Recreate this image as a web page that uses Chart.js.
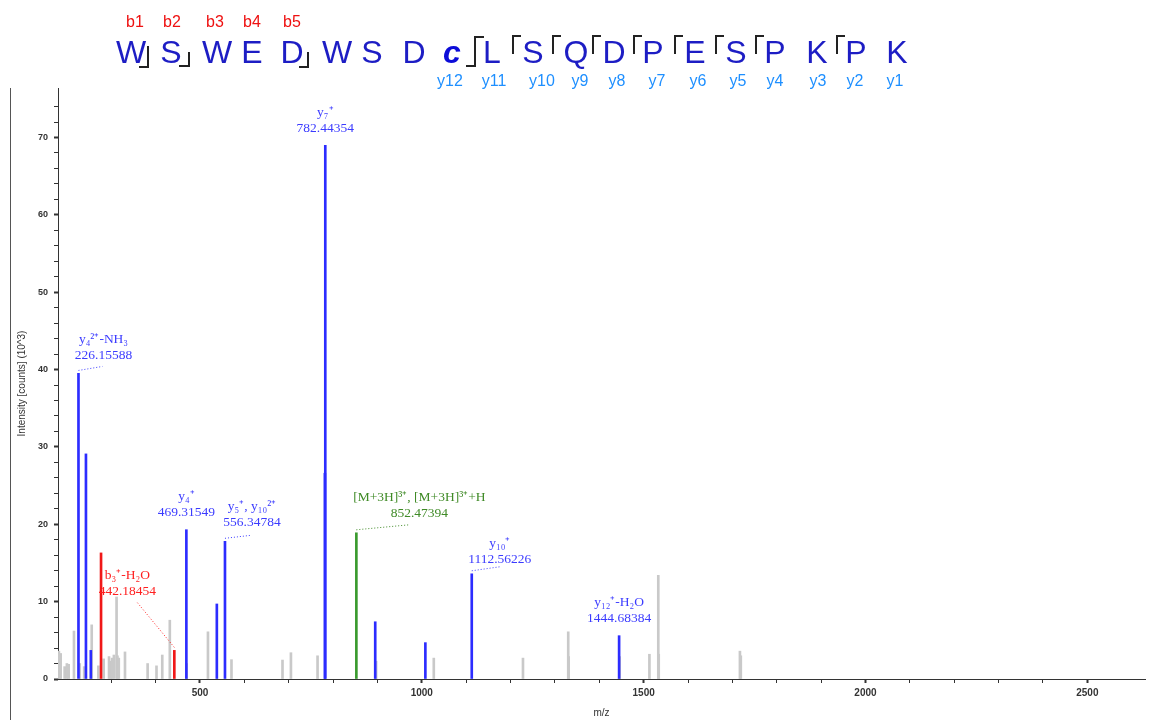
<!DOCTYPE html>
<html>
<head>
<meta charset="utf-8">
<script src="https://cdn.jsdelivr.net/npm/chart.js@4/dist/chart.umd.min.js"></script>
<style>
  html, body { margin: 0; padding: 0; background: #fff; }
  #wrap { position: relative; width: 1152px; height: 720px; overflow: hidden; }
  #edge { position: absolute; left: 10px; top: 88px; width: 1px; height: 632px; background: #555; }
</style>
</head>
<body>
<div id="wrap">
  <canvas id="spec" width="1152" height="720"></canvas>
  <div id="edge"></div>
</div>
<script>
// ---- spectrum data (m/z, intensity in 10^3 counts) ----
const blueMz  = [226.15588, 243, 254, 469.31549, 538, 556.34784, 781.5, 782.44354, 895, 1008, 1112.56226, 1444.68384];
const blueInt = [39.5, 29.1, 3.7, 19.3, 9.7, 17.8, 26.6, 69.0, 7.4, 4.7, 13.6, 5.6];
const redMz   = [277, 442.18454];
const redInt  = [16.3, 3.7];
const greenMz  = [852.47394];
const greenInt = [18.9];
const greyMz  = [182, 184, 186, 195, 200, 204, 216, 229, 239, 256, 271, 283, 295, 299, 302, 306, 312, 314, 317, 331,
                 382, 402, 415, 432, 470, 518, 571, 686, 705, 765, 897, 1027, 1228, 1330, 1331, 1446, 1513, 1533, 1534, 1717, 1719];
const greyInt = [3.6, 1.5, 3.3, 1.6, 2.0, 1.9, 6.2, 2.0, 1.6, 7.0, 1.7, 2.6, 2.9, 2.3, 2.7, 3.1, 10.6, 3.0, 2.7, 3.5,
                 2.0, 1.7, 3.1, 7.6, 2.0, 6.1, 2.5, 2.45, 3.4, 3.0, 2.3, 2.7, 2.7, 6.1, 2.9, 2.9, 3.2, 13.4, 3.2, 3.6, 3.0];

// ---- peak annotations ----
const labelMz  = [226.15588, 782.44354, 469.31549, 556.34784, 852.47394, 1112.56226, 1444.68384, 442.18454];
const labelIon = ['y₄²⁺-NH₃', 'y₇⁺', 'y₄⁺', 'y₅⁺, y₁₀²⁺', '[M+3H]³⁺, [M+3H]³⁺+H', 'y₁₀⁺', 'y₁₂⁺-H₂O', 'b₃⁺-H₂O'];

// ---- sequence header ----
const seqLetters = ['W','S','W','E','D','W','S','D','c','L','S','Q','D','P','E','S','P','K','P','K'];
const bLabels = ['b1','b2','b3','b4','b5'];
const yLabels = ['y12','y11','y10','y9','y8','y7','y6','y5','y4','y3','y2','y1'];

// layout/styling for the annotations (pixels, kept apart from the data)
const labelStyle = [
  { dx: 25, dy: 18, c: [24, -7],   col: '#3b3bff' },
  { dx: 0,  dy: 17, c: null,       col: '#3b3bff' },
  { dx: 0,  dy: 17, c: null,       col: '#3b3bff' },
  { dx: 27, dy: 19, c: [26, -6],   col: '#3b3bff' },
  { dx: 63, dy: 19, c: [53, -8],   col: '#3f8a26' },
  { dx: 28, dy: 14, c: [28, -7],   col: '#3b3bff' },
  { dx: 0,  dy: 17, c: null,       col: '#3b3bff' },
  { dx: -47, dy: 59, c: [-38, -49], col: '#ff2020' }
];
const seqX = [131, 171, 217, 252, 292, 337, 372, 414, 452, 492, 533, 576, 614, 653, 695, 736, 775, 817, 856, 897];
const bX = [135, 172, 215, 252, 292];
const yX = [450, 494, 542, 580, 617, 657, 698, 738, 775, 818, 855, 895];

const pts = (xs, ys) => xs.map((x, i) => ({ x: x, y: ys[i] }));
const allMz = blueMz.concat(redMz, greenMz);
const allInt = blueInt.concat(redInt, greenInt);

const stick = (data, color) => ({
  data: data, backgroundColor: color, borderWidth: 0,
  barThickness: 2, grouped: false
});

const annotate = {
  id: 'annotate',
  afterDatasetsDraw(chart) {
    const ctx = chart.ctx, xs = chart.scales.x, ys = chart.scales.y;
    ctx.save();
    ctx.font = '13.5px "Liberation Serif", serif';
    ctx.textAlign = 'center';
    ctx.textBaseline = 'middle';
    labelMz.forEach((mz, i) => {
      const st = labelStyle[i];
      const h = allInt[allMz.indexOf(mz)];
      const px = xs.getPixelForValue(mz), top = ys.getPixelForValue(h);
      const lx = px + st.dx, ly2 = top - st.dy, ly1 = ly2 - 16;
      ctx.fillStyle = st.col;
      ctx.fillText(labelIon[i], lx, ly1);
      ctx.fillText(mz.toFixed(5), lx, ly2);
      if (st.c) {
        ctx.strokeStyle = st.col;
        ctx.lineWidth = 1;
        ctx.setLineDash([1, 2]);
        ctx.beginPath();
        ctx.moveTo(px, top - 3);
        ctx.lineTo(px + st.c[0], top + st.c[1]);
        ctx.stroke();
        ctx.setLineDash([]);
      }
    });
    ctx.restore();
  }
};

const header = {
  id: 'header',
  afterDraw(chart) {
    const ctx = chart.ctx;
    ctx.save();
    ctx.textAlign = 'center';
    ctx.textBaseline = 'alphabetic';
    seqLetters.forEach((s, i) => {
      ctx.fillStyle = s === 'c' ? '#0c0cd8' : '#1d1dc4';
      ctx.font = s === 'c' ? 'italic bold 32px "Liberation Sans", Arial' : '32px "Liberation Sans", Arial';
      ctx.fillText(s, seqX[i], 63);
    });
    ctx.font = '16px "Liberation Sans", Arial';
    ctx.fillStyle = '#ee1111';
    bLabels.forEach((t, i) => ctx.fillText(t, bX[i], 27));
    ctx.fillStyle = '#1e8fff';
    yLabels.forEach((t, i) => ctx.fillText(t, yX[i], 86));
    // fragment brackets
    ctx.strokeStyle = '#222';
    ctx.lineWidth = 2;
    const path = (p) => { ctx.beginPath(); ctx.moveTo(p[0][0], p[0][1]); p.slice(1).forEach(q => ctx.lineTo(q[0], q[1])); ctx.stroke(); };
    path([[148, 46], [148, 67], [139, 67]]);
    path([[189, 52], [189, 66], [179, 66]]);
    path([[308, 52], [308, 67], [299, 67]]);
    path([[466, 66], [475, 66], [475, 37], [484, 37]]);
    [513, 553, 593, 634, 675, 716, 756, 837].forEach(x => path([[x, 54], [x, 36], [x + 8, 36]]));
    ctx.restore();
  }
};

new Chart(document.getElementById('spec').getContext('2d'), {
  type: 'bar',
  data: {
    datasets: [
      stick(pts(greenMz, greenInt), '#3a9a2e'),
      stick(pts(redMz, redInt), '#f01818'),
      stick(pts(blueMz, blueInt), '#2c2cff'),
      stick(pts(greyMz, greyInt), '#c9c9c9')
    ]
  },
  options: {
    responsive: false,
    animation: false,
    layout: { padding: { left: 16, top: 88, right: 7, bottom: 1 } },
    plugins: { legend: { display: false }, tooltip: { enabled: false } },
    scales: {
      x: {
        type: 'linear', min: 180, max: 2630, offset: false,
        border: { color: '#333', width: 1 },
        grid: { offset: false, drawOnChartArea: false, tickLength: 4,
                tickColor: c => (c.tick && c.tick.value % 100 === 0) ? '#333' : 'rgba(0,0,0,0)',
                tickWidth: c => (c.tick && c.tick.value % 500 === 0) ? 2 : 1 },
        ticks: { stepSize: 100, autoSkip: false, maxRotation: 0, padding: 4, color: '#333',
                 font: { family: '"Liberation Sans", Arial', size: 10, weight: 'bold' },
                 callback: v => v % 500 === 0 ? v : '' },
        title: { display: true, text: 'm/z', color: '#333', padding: { top: 2, bottom: 0 },
                 font: { family: '"Liberation Sans", Arial', size: 10 } },
        afterFit: s => { s.height = 40; }
      },
      y: {
        min: 0, max: 76.4,
        border: { color: '#333', width: 1 },
        grid: { drawOnChartArea: false, tickLength: 4,
                tickColor: c => (c.tick && c.tick.value % 2 === 0) ? '#333' : 'rgba(0,0,0,0)',
                tickWidth: c => (c.tick && c.tick.value % 10 === 0) ? 2 : 1 },
        ticks: { stepSize: 2, autoSkip: false, padding: 6, color: '#333',
                 font: { family: '"Liberation Sans", Arial', size: 9, weight: 'bold' },
                 callback: v => v % 10 === 0 ? v : '' },
        title: { display: true, text: 'Intensity [counts] (10^3)', color: '#333', padding: { top: 0, bottom: 0 },
                 font: { family: '"Liberation Sans", Arial', size: 10 } },
        afterFit: s => { s.width = 42; }
      }
    }
  },
  plugins: [annotate, header]
});
</script>
</body>
</html>
